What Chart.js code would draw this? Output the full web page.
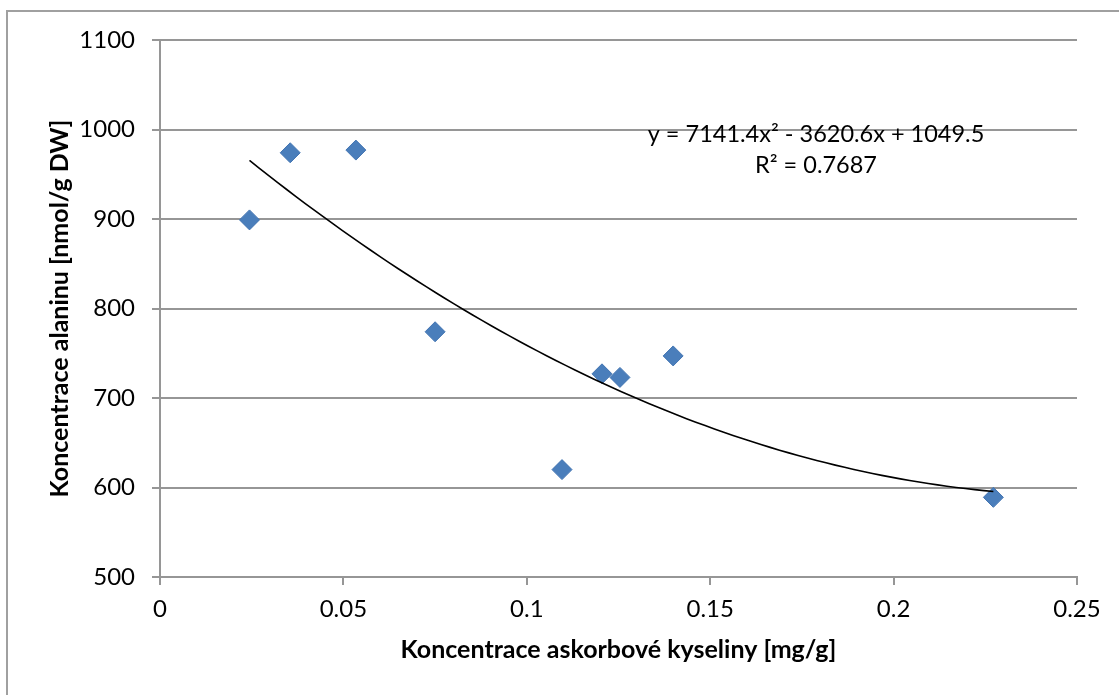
<!DOCTYPE html>
<html>
<head>
<meta charset="utf-8">
<title>Alanin vs. askorbová kyselina</title>
<script src="https://cdn.jsdelivr.net/npm/chart.js@4/dist/chart.umd.min.js"></script>
<style>
  html, body { margin: 0; padding: 0; background: #fff; overflow: hidden; }
  #wrap { position: relative; width: 1119px; height: 695px; }
  #frame {
    position: absolute; left: 6px; top: 10px; right: 0; bottom: 0;
    border-left: 2px solid #a0a0a0; border-top: 2px solid #a0a0a0;
    pointer-events: none;
  }
  canvas { position: absolute; left: 0; top: 0; }
</style>
</head>
<body>
<div id="wrap">
  <canvas id="chart" width="1119" height="695"></canvas>
  <div id="frame"></div>
</div>
<script>
// Measured samples: ascorbic acid (mg/g) vs. alanine (nmol/g DW)
const ascorbic = [0.0244, 0.0355, 0.0534, 0.0750, 0.1096, 0.1205, 0.1254, 0.1399, 0.2272];
const alanine = [899, 974, 977, 774, 620, 727, 723, 747, 589];

// Polynomial trendline (2nd order) as printed on the chart
const trendCoef = [7141.4, -3620.6, 1049.5];
const trendLabel = ["y = 7141.4x\u00B2 - 3620.6x + 1049.5", "R\u00B2 = 0.7687"];

const xTickLabels = ["0", "0.05", "0.1", "0.15", "0.2", "0.25"];
const yTickLabels = ["500", "600", "700", "800", "900", "1000", "1100"];

const xTitle = "Koncentrace askorbové kyseliny [mg/g]";
const yTitle = "Koncentrace alaninu [nmol/g DW]";

const FONT = "Lato";
const GRID = "#969696";

const points = ascorbic.map((x, i) => ({ x: x, y: alanine[i] }));

// trendline evaluated across the range of the measured x values
const xMin = Math.min(...ascorbic);
const xMax = Math.max(...ascorbic);
const trend = [];
for (let i = 0; i <= 80; i++) {
  const x = xMin + (xMax - xMin) * i / 80;
  trend.push({ x: x, y: trendCoef[0] * x * x + trendCoef[1] * x + trendCoef[2] });
}

// trendline equation + R² above the curve
const equationLabel = {
  id: "equationLabel",
  afterDraw(chart) {
    const ctx = chart.ctx;
    ctx.save();
    ctx.fillStyle = "#000";
    ctx.font = "23.5px " + FONT;
    ctx.textAlign = "center";
    ctx.textBaseline = "alphabetic";
    ctx.fillText(trendLabel[0], 816, 142);
    ctx.fillText(trendLabel[1], 816, 173);
    ctx.restore();
  }
};

new Chart(document.getElementById("chart"), {
  type: "scatter",
  data: {
    datasets: [
      {
        label: "Trend",
        data: trend,
        showLine: true,
        borderColor: "#000",
        borderWidth: 1.6,
        pointRadius: 0,
        order: 0
      },
      {
        label: "Alanin",
        data: points,
        pointStyle: "rectRot",
        pointRadius: 10,
        backgroundColor: "#4A7EBB",
        borderColor: "#4375B2",
        borderWidth: 1,
        order: 1
      }
    ]
  },
  options: {
    responsive: false,
    animation: false,
    devicePixelRatio: 1,
    layout: { padding: { left: 0, top: 40, right: 42, bottom: 0 } },
    plugins: {
      legend: { display: false },
      tooltip: { enabled: false }
    },
    scales: {
      x: {
        type: "linear",
        min: 0,
        max: 0.25,
        afterFit(scale) { scale.height = 118; },
        afterBuildTicks(scale) {
          scale.ticks = xTickLabels.map((t) => ({ value: parseFloat(t) }));
        },
        ticks: {
          padding: 10,
          color: "#000",
          font: { family: FONT, size: 24 },
          maxRotation: 0,
          callback: (v, i) => xTickLabels[i]
        },
        grid: {
          drawOnChartArea: false,
          drawTicks: true,
          tickLength: 8,
          color: GRID,
          lineWidth: 2
        },
        border: { color: GRID, width: 2 },
        title: {
          display: true,
          text: xTitle,
          color: "#000",
          font: { family: FONT, size: 25, weight: "bold" },
          padding: { top: 0, bottom: 30 }
        }
      },
      y: {
        type: "linear",
        min: 500,
        max: 1100,
        afterFit(scale) { scale.width = 160; },
        afterBuildTicks(scale) {
          scale.ticks = yTickLabels.map((t) => ({ value: parseFloat(t) }));
        },
        ticks: {
          padding: 17,
          color: "#000",
          font: { family: FONT, size: 24 },
          callback: (v, i) => yTickLabels[i]
        },
        grid: {
          drawTicks: true,
          tickLength: 8,
          color: GRID,
          lineWidth: 2
        },
        border: { color: GRID, width: 2 },
        title: {
          display: true,
          text: yTitle,
          color: "#000",
          font: { family: FONT, size: 25, weight: "bold" },
          padding: { top: 45, bottom: 0 }
        }
      }
    }
  },
  plugins: [equationLabel]
});
</script>
</body>
</html>
